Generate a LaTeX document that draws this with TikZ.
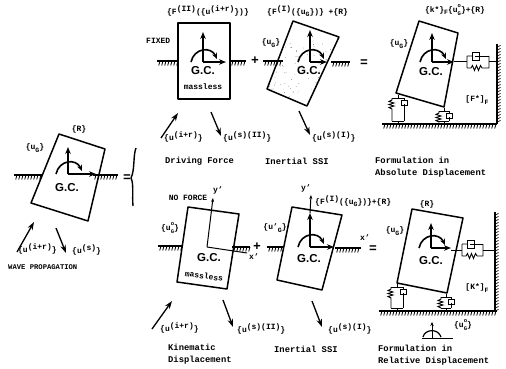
\documentclass[tikz,border=0pt]{standalone}
\usepackage{fontspec}
\setmainfont{Liberation Mono}[BoldFont={Liberation Mono Bold}]
\newfontfamily\gcfont{Liberation Sans}
\usetikzlibrary{arrows.meta,calc}
\newcommand{\su}[1]{\raisebox{3pt}{#1}}
\newcommand{\sd}[1]{\raisebox{-2.5pt}{\fontsize{6.5}{7}\selectfont #1}}
\newcommand{\uG}{u\sd{G}}
\newcommand{\uGo}{u\makebox[0pt][l]{\raisebox{4.2pt}{\fontsize{5.5}{6}\selectfont o}}\raisebox{-3pt}{\fontsize{5.5}{6}\selectfont G}}
\tikzset{
  lbl/.style={font=\bfseries\fontsize{8}{9}\selectfont,inner sep=0pt},
  captext/.style={font=\bfseries\fontsize{8.8}{12}\selectfont,inner sep=0pt,align=left},
  gctext/.style={font=\gcfont\bfseries\fontsize{11.5}{13}\selectfont,inner sep=0pt},
  optext/.style={font=\bfseries\fontsize{13}{14}\selectfont,inner sep=0pt},
  boxline/.style={line width=1.5pt,line join=round},
  thinline/.style={line width=1pt},
  axisline/.style={line width=1.4pt,-{Stealth[length=7pt,width=5.5pt]}},
  waveline/.style={line width=1.3pt,-{Stealth[length=8pt,width=5.5pt]}},
}
\newcommand{\hatchh}[3]{%
  \draw[line width=1.2pt] (#1,#3)--(#2,#3);
  \pgfmathsetmacro{\hatA}{#1+3}\pgfmathsetmacro{\hatB}{#1+6}
  \foreach \hx in {\hatA,\hatB,...,#2}{\draw[line width=0.8pt] (\hx,#3)--++(-1.3,4.5);}}
\newcommand{\wallh}[3]{%
  \draw[line width=1.4pt] (#1,#2)--(#1,#3);
  \pgfmathsetmacro{\hatA}{#2+3}\pgfmathsetmacro{\hatB}{#2+6}
  \foreach \hy in {\hatA,\hatB,...,#3}{\draw[line width=0.7pt] (#1,\hy)--++(3.5,-1.5);}}
% origin, top of up arrow, tip of right arrow
\newcommand{\gcsym}[4]{%
  \coordinate (o) at (#1,#2);
  \coordinate (ou) at (#1,#3);
  \coordinate (or) at (#4,#2);
  \draw[axisline] (o)--(ou);
  \draw[axisline] (o)--(or);
  \draw[line width=1.6pt,-{Stealth[length=6pt,width=5pt]}] ($(o)+(-12,0)$) .. controls ($(o)+(-9,-14)$) and ($(o)+(8,-16)$) .. ($(o)+(14,-3)$);}
\newcommand{\elemH}[3]{% x1 x2 y : dashpot above, spring below
  \begin{scope}[shift={(#1,#3)},line width=0.9pt]
  \pgfmathsetmacro{\elW}{#2-#1}
  \draw (0,-6)--(0,6) (0,-6)--(5,-6) (\elW,-6)--(\elW,6) (\elW,6)--(15,6)
        (0,6)--(4,6)--(5.5,3.5)--(7.5,8.5)--(9.5,3.5)--(11.5,8.5)--(13.5,3.5)--(15,6);
  \draw (5,-10)--(5,-2) (5,-10)--(12,-10)--(12,-2)--(5,-2);
  \draw (8,-6)--(\elW,-6);
  \end{scope}}
\newcommand{\elemV}[4]{% x ytop ybot width
  \begin{scope}[shift={(#1,#2)},line width=0.9pt]
  \pgfmathsetmacro{\elH}{#3-#2}
  \draw (0,0)--(0,3) (-#4,3)--(#4,3) (-#4,\elH-3)--(#4,\elH-3) (0,\elH-3)--(0,\elH);
  \draw (-#4,3)--(-#4,5)--(-#4-3,6.5)--(-#4+2,8)--(-#4-3,9.5)--(-#4+2,11)--(-#4-3,12.5)--(-#4,14)--(-#4,\elH-3);
  \draw (#4,3)--(#4,5) (#4,\elH-3)--(#4,9);
  \draw (#4-3,5) rectangle (#4+3,10);
  \end{scope}}
\begin{document}
\begin{tikzpicture}[x=1pt,y=-1pt]
\useasboundingbox (0,0) rectangle (506,369);
\fill[white] (0,0) rectangle (506,369);

% ---- left: wave propagation
\draw[boxline] (59,134)--(105,149)--(88,221)--(31,203)--cycle;
\hatchh{14}{42}{175}
\hatchh{93}{118}{175}
\gcsym{68}{174}{147}{96}
\node[gctext] (gc0) at (67,188) {G.C.};
\node[lbl] (r0) at (79,129) {\{R\}};
\node[lbl] (ug0) at (35,148) {\{\uG\}};
\node[optext] (eq0) at (127,178) {=};
\coordinate (a0s) at (17,252); \coordinate (a0e) at (34,222);
\coordinate (b0s) at (56,228); \coordinate (b0e) at (66,253);
\draw[waveline] (a0s)--(a0e);
\draw[waveline] (b0s)--(b0e);
\node[lbl,anchor=west] (i0) at (18,249) {\{u\su{(i+r)}\}};
\node[lbl,anchor=west] (s0) at (72,250) {\{u\su{(s)}\}};
\node[lbl,anchor=west,font=\bfseries\fontsize{7.2}{9}\selectfont] (w0) at (8,267) {WAVE PROPAGATION};
% big brace
\draw[line width=1.4pt] (136,148) .. controls (133,155) and (135,170) .. (131,178) .. controls (134,184) and (132,196) .. (133,206);

% ---- top 1: driving force
\draw[boxline] (178,23) rectangle (230,99);
\hatchh{157}{178}{61}
\hatchh{230}{246}{61}
\gcsym{203}{62}{32}{226}
\node[gctext] (gc1) at (203,71) {G.C.};
\node[lbl] (m1) at (203,87) {massless};
\node[lbl,anchor=west] (fx) at (146,41) {FIXED};
\node[lbl] (f1) at (208,11) {\{F\su{(II)}(\{u\su{(i+r)}\})\}};
\node[optext] (p1) at (255,61) {+};
\coordinate (a1s) at (161,138); \coordinate (a1e) at (178,113);
\coordinate (b1s) at (211,112); \coordinate (b1e) at (221,136);
\draw[waveline] (a1s)--(a1e);
\draw[waveline] (b1s)--(b1e);
\node[lbl,anchor=west] (i1) at (164,137) {\{u\su{(i+r)}\}};
\node[lbl,anchor=west] (s1) at (223,137) {\{u\su{(s)(II)}\}};
\node[captext,anchor=west] (c1) at (165,161) {Driving Force};

% ---- top 2: inertial SSI
\begin{scope}
\clip (293,21)--(339,37)--(307,106)--(267,89)--cycle;
\pgfmathsetseed{7}
\foreach \k in {1,...,130}{
  \pgfmathsetmacro{\ptX}{265+rnd*75}\pgfmathsetmacro{\ptY}{40+rnd*68}
  \fill[black!70] (\ptX,\ptY) circle (0.35pt);}
\end{scope}
\draw[boxline] (293,21)--(339,37)--(307,106)--(267,89)--cycle;
\hatchh{263}{283}{61}
\hatchh{331}{350}{62}
\gcsym{310}{62}{30}{327}
\node[gctext] (gc2) at (309,71) {G.C.};
\node[lbl] (ug2) at (271,43) {\{\uG\}};
\node[lbl,anchor=west] (f2) at (267,11) {\{F\su{(I)}(\{\uG\})\} +\{R\}};
\node[optext] (e2) at (364,63) {=};
\coordinate (b2s) at (299,111); \coordinate (b2e) at (310,135);
\draw[waveline] (b2s)--(b2e);
\node[lbl,anchor=west] (s2) at (312,137) {\{u\su{(s)(I)}\}};
\node[captext,anchor=west] (c2) at (265,161) {Inertial SSI};

% ---- top 3: absolute
\draw[boxline] (419,21)--(458,33)--(444,107)--(396,93)--cycle;
\hatchh{382}{497}{124}
\wallh{497}{44}{124}
\gcsym{432}{62}{33}{454}
\node[gctext] (gc3) at (431,72) {G.C.};
\node[lbl] (k3) at (455,10) {\{k*\}\sd{F}\{\uGo\}+\{R\}};
\node[lbl] (ug3) at (399,44) {\{\uG\}};
\node[lbl] (ff3) at (477,100) {[F*]\sd{F}};
\coordinate (h3a) at (454,62); \coordinate (h3b) at (467,62);
\coordinate (h3c) at (489,62); \coordinate (h3d) at (497,62);
\draw[thinline] (h3a)--(h3b) (h3c)--(h3d);
\elemH{467}{489}{62}
\elemV{398}{95}{124}{6}
\elemV{444}{108}{124}{5}
\node[captext,anchor=west] (c3) at (375,167) {Formulation in\\Absolute Displacement};

% ---- bottom 1: kinematic
\draw[boxline] (188,207)--(239,214)--(227,289)--(177,282)--cycle;
\hatchh{158}{182}{246}
\hatchh{232}{250}{247}
\coordinate (o4) at (207,247);
\coordinate (y4) at (213,198);
\coordinate (x4) at (247,253);
\draw[thinline,-{Stealth[length=4pt,width=3pt]}] (o4)--(y4);
\draw[thinline] (o4)--(x4);
\node[lbl] (yl4) at (218,190) {y'};
\node[lbl] (xl4) at (254,257) {x'};
\node[lbl] (nf) at (188,198) {NO FORCE};
\node[lbl] (ug4) at (170,228) {\{\uGo\}};
\node[gctext] (gc4) at (209,258) {G.C.};
\node[lbl,rotate=-8] (m4) at (204,276) {massless};
\node[optext] (p4) at (257,247) {+};
\coordinate (a4s) at (152,329); \coordinate (a4e) at (172,301);
\coordinate (b4s) at (223,300); \coordinate (b4e) at (233,327);
\draw[waveline] (a4s)--(a4e);
\draw[waveline] (b4s)--(b4e);
\node[lbl,anchor=west] (i4) at (160,328) {\{u\su{(i+r)}\}};
\node[lbl,anchor=west] (s4) at (237,329) {\{u\su{(s)(II)}\}};
\node[captext,anchor=west] (c4) at (168,354) {Kinematic\\Displacement};

% ---- bottom 2: inertial SSI
\draw[boxline] (292,207)--(342,215)--(322,290)--(277,280)--cycle;
\hatchh{267}{284}{247}
\hatchh{335}{361}{248}
\gcsym{310}{247}{213}{334}
\coordinate (y5) at (311,195);
\draw[thinline,-{Stealth[length=4pt,width=3pt]}] (ou)--(y5);
\node[lbl] (yl5) at (306,188) {y'};
\node[lbl] (xl5) at (365,238) {x'};
\node[gctext] (gc5) at (309,259) {G.C.};
\node[lbl] (ug5) at (275,228) {\{u'\sd{G}\}};
\node[lbl,anchor=west] (f5) at (315,201) {\{F\su{(I)}(\{\uG\})\}+\{R\}};
\node[optext] (e5) at (373,249) {=};
\coordinate (b5s) at (312,301); \coordinate (b5e) at (322,327);
\draw[waveline] (b5s)--(b5e);
\node[lbl,anchor=west] (s5) at (328,329) {\{u\su{(s)(I)}\}};
\node[captext,anchor=west] (c5) at (274,349) {Inertial SSI};

% ---- bottom 3: relative
\draw[boxline] (412,209)--(463,218)--(447,293)--(397,283)--cycle;
\hatchh{379}{497}{311}
\wallh{495}{212}{311}
\gcsym{431}{248}{223}{451}
\node[gctext] (gc6) at (431,261) {G.C.};
\node[lbl] (r6) at (427,204) {\{R\}};
\node[lbl] (ug6) at (395,231) {\{\uG\}};
\node[lbl] (kk6) at (477,288) {[K*]\sd{F}};
\coordinate (h6a) at (451,250); \coordinate (h6b) at (462,250);
\coordinate (h6c) at (483,250); \coordinate (h6d) at (495,250);
\draw[thinline] (h6a)--(h6b) (h6c)--(h6d);
\elemH{462}{483}{250}
\elemV{397}{284}{311}{6}
\elemV{446}{294}{311}{5}
\node[lbl] (ug6o) at (463,325) {\{\uGo\}};
\coordinate (o7) at (432,338);
\coordinate (u7) at (432,322);
\coordinate (r7) at (453,338);
\coordinate (l7) at (422,338);
\draw[thinline,-{Stealth[length=4pt,width=3.5pt]}] (o7)--(u7);
\draw[thinline] (l7)--(r7);
\draw[line width=1.2pt] (423,337) .. controls (425,329) and (438,328) .. (441,337);
\node[captext,anchor=west] (c6) at (378,355) {Formulation in\\Relative Displacement};
\end{tikzpicture}
\end{document}
